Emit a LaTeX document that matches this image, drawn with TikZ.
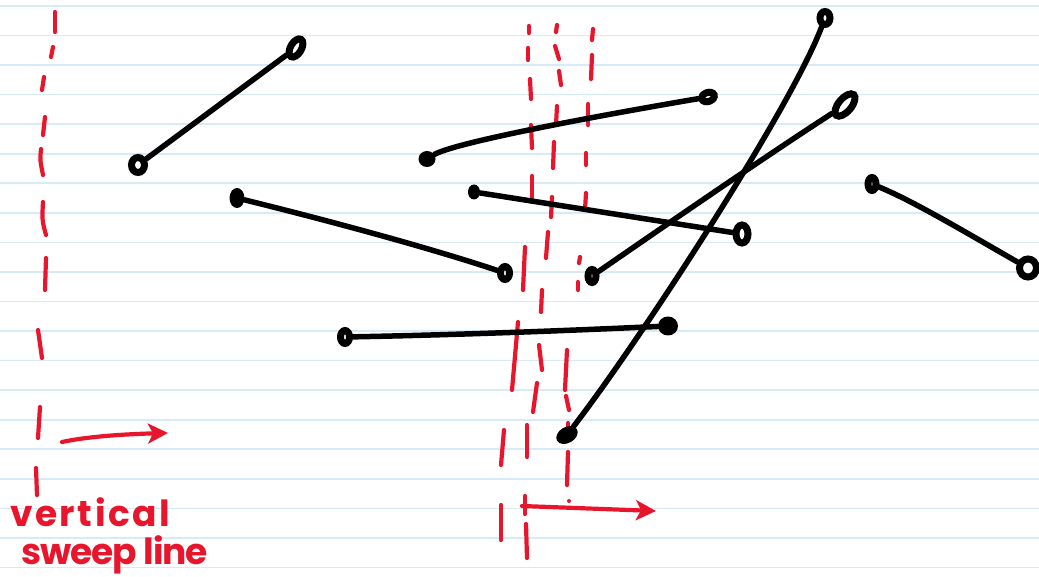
\documentclass[tikz,border=0pt]{standalone}
\usepackage{fontspec}
\newfontfamily\hand{Poppins}
\usetikzlibrary{shapes.geometric,arrows.meta}
\definecolor{pen}{RGB}{232,22,45}
\definecolor{rulecol}{RGB}{214,234,248}
\tikzset{
  seg/.style={line width=5.5pt, black, line cap=round, line join=round},
  ring/.style={draw=black, ellipse, line width=7pt, inner sep=0pt, fill=white},
  blob/.style={fill=black, ellipse, inner sep=0pt},
  rd/.style={draw=pen, line width=4.2pt, line cap=round},
  rarrow/.style={draw=pen, line width=4.2pt, line cap=round, -{Stealth[length=20pt,width=20pt,inset=5pt]}},
  handtxt/.style={text=pen, font=\hand\bfseries\fontsize{36}{36}\selectfont, inner sep=0pt, anchor=base west}
}
\begin{document}
\begin{tikzpicture}[x=1pt,y=-1pt]
\useasboundingbox (0,0) rectangle (1039,577);
\fill[white] (0,0) rectangle (1039,577);
\foreach \k in {0,...,19} \draw[rulecol, line width=1.6pt] (0,6+29.55*\k) -- (1039,6+29.55*\k);

% ---------- left sweep line ----------
\draw[rd] (55,12) -- (55,32);
\draw[rd] (53,47) -- (51,57);
\draw[rd] (44,77) -- (42,90);
\draw[rd] (45,117) -- (43,135);
\draw[rd] (41,149) .. controls (40,160) .. (43,175);
\draw[rd] (43,202) .. controls (42,220) .. (46,235);
\draw[rd] (46,258) -- (45,290);
\draw[rd] (38,330) -- (42,358);
\draw[rd] (40,407) -- (38,438);
\draw[rd] (36,468) -- (37,495);
\coordinate (la1) at (62,442);
\coordinate (la2) at (168,433);
\draw[rarrow] (la1) .. controls (90,436) and (130,434) .. (la2);

% ---------- label ----------
\node[handtxt] (lbla) at (10,526) {\addfontfeatures{LetterSpace=7}vertical};
\node[handtxt] (lblb) at (21,564) {\addfontfeatures{LetterSpace=-3}sweep line};

% ---------- middle sweep lines ----------
% line A
\draw[rd] (529,26) -- (529,33);
\draw[rd] (528,48) -- (528,60);
\draw[rd] (530,79) -- (531,99);
\draw[rd] (531,125) -- (532,148);
\draw[rd] (532,176) -- (532,202);
\draw[rd] (525,247) -- (523,290);
\draw[rd] (518,322) -- (512,390);
\draw[rd] (504,430) -- (501,465);
\draw[rd] (501,505) -- (501,540);
% line B
\draw[rd] (557,25) -- (556,32);
\draw[rd] (555,46) -- (559,59);
\draw[rd] (559,71) -- (561,85);
\draw[rd] (557,106) -- (556,125);
\draw[rd] (554,142) -- (553,168);
\draw[rd] (552,197) -- (551,217);
\draw[rd] (548,232) -- (546,258);
\draw[rd] (542,290) -- (541,312);
\draw[rd] (539,345) -- (542,370);
\draw[rd] (537,383) -- (533,412);
\draw[rd] (527,425) -- (527,457);
\draw[rd] (525,496) -- (525,514);
\draw[rd] (526,524) -- (527,558);
% line C
\draw[rd] (593,29) -- (592,40);
\draw[rd] (592,55) -- (591,79);
\draw[rd] (588,104) -- (588,125);
\draw[rd] (586,153) -- (586,165);
\draw[rd] (586,193) -- (585,210);
\draw[rd] (580,257) -- (579,263);
\draw[rd] (578,282) -- (578,290);
\draw[rd] (567,350) -- (565,390);
\draw[rd] (566,396) -- (569,410);
\draw[rd] (568,423) -- (568,437);
\draw[rd] (568,452) -- (567,485);
\fill[pen] (569,501) circle (2pt);
\coordinate (ma1) at (522,506);
\coordinate (ma2) at (656,511);
\draw[rarrow] (ma1) -- (ma2);

% ---------- segments: end points ----------
\node[ring, minimum width=13pt, minimum height=15pt] (s1a) at (138,165) {};
\node[ring, minimum width=20pt, minimum height=11pt, rotate=60] (s1b) at (296,48) {};
\node[blob, minimum width=15pt, minimum height=20pt] (s2a) at (237,198) {};
\node[ring, minimum width=9pt, minimum height=13pt] (s2b) at (505,273) {};
\node[blob, minimum width=17pt, minimum height=16pt] (s3a) at (427,159) {};
\node[ring, minimum width=13pt, minimum height=9pt, rotate=20] (s3b) at (708,97) {};
\node[blob, minimum width=12pt, minimum height=15pt] (s4a) at (474,192) {};
\node[ring, minimum width=12pt, minimum height=18pt] (s4b) at (742,234) {};
\node[ring, minimum width=8pt, minimum height=13pt] (s5a) at (592,276) {};
\node[ring, minimum width=27pt, minimum height=13pt, rotate=50] (s5b) at (845,105) {};
\node[blob, minimum width=23pt, minimum height=16pt, rotate=30] (s6a) at (567,435) {};
\node[ring, minimum width=10pt, minimum height=13pt] (s6b) at (825,18) {};
\node[ring, minimum width=8pt, minimum height=13pt] (s7a) at (872,184) {};
\node[ring, minimum width=17pt, minimum height=18pt] (s7b) at (1028,268) {};
\node[ring, minimum width=9pt, minimum height=13pt] (s8a) at (345,337) {};
\node[blob, minimum width=20pt, minimum height=19pt] (s8b) at (668,326) {};

% ---------- segments ----------
\draw[seg] (s1a) -- (s1b);
\draw[seg] (s2a) .. controls (330,221) and (430,248) .. (s2b);
\draw[seg] (s3a) .. controls (450,145) and (550,124) .. (s3b);
\draw[seg] (s4a) -- (s4b);
\draw[seg] (s5a) .. controls (650,236) and (760,160) .. (s5b);
\draw[seg] (s6a) .. controls (640,340) and (790,110) .. (s6b);
\draw[seg] (s7a) .. controls (915,202) and (965,232) .. (s7b);
\draw[seg] (s8a) .. controls (450,335) and (560,331) .. (s8b);
\end{tikzpicture}
\end{document}
